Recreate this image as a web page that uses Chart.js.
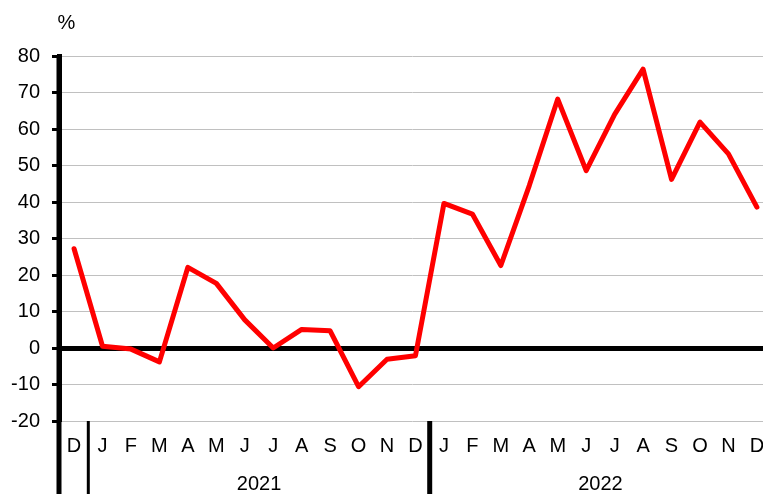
<!DOCTYPE html>
<html>
<head>
<meta charset="utf-8">
<script src="https://cdn.jsdelivr.net/npm/chart.js@4/dist/chart.umd.min.js"></script>
<style>
  html, body { margin: 0; padding: 0; background: #fff; }
  #wrap { width: 763px; height: 494px; position: relative; }
</style>
</head>
<body>
<div id="wrap"><canvas id="c" width="763" height="494"></canvas></div>
<script>
// ---- data ----
const monthLabels = ['D','J','F','M','A','M','J','J','A','S','O','N','D','J','F','M','A','M','J','J','A','S','O','N','D'];
const growthValues = [27.2, 0.5, -0.3, -3.8, 22.1, 17.7, 7.7, 0, 5.1, 4.7, -10.6, -3.1, -2.1,
                      39.6, 36.7, 22.6, 44.5, 68.2, 48.6, 64.0, 76.4, 46.2, 61.9, 53.2, 38.6];
const yearLabels = ['2021', '2022'];
const yearSpans = [[0.5, 12.5], [12.5, 24.5]];
const yTicks = [-20, -10, 0, 10, 20, 30, 40, 50, 60, 70, 80];
const unitLabel = '%';

const FONT = 'Liberation Sans, Arial, sans-serif';

const extras = {
  id: 'extras',
  afterDraw(chart) {
    const ctx = chart.ctx;
    const xs = chart.scales.x;
    const area = chart.chartArea;
    const H = chart.height;
    ctx.save();
    // y-axis extension down through label area
    ctx.strokeStyle = '#000';
    ctx.lineWidth = 5;
    ctx.beginPath();
    ctx.moveTo(area.left, area.top - 1);
    ctx.lineTo(area.left, H);
    ctx.stroke();
    // separators
    const sepWidths = [3, 5];
    [0.5, 12.5].forEach((v, i) => {
      const px = xs.getPixelForValue(v);
      ctx.lineWidth = sepWidths[i];
      ctx.beginPath();
      ctx.moveTo(px, area.bottom);
      ctx.lineTo(px, H);
      ctx.stroke();
    });
    // year labels
    ctx.fillStyle = '#000';
    ctx.font = '20px ' + FONT;
    ctx.textAlign = 'center';
    ctx.textBaseline = 'alphabetic';
    yearLabels.forEach((t, i) => {
      const a = xs.getPixelForValue(yearSpans[i][0]);
      const b = xs.getPixelForValue(yearSpans[i][1]);
      ctx.fillText(t, (a + b) / 2, 490);
    });
    // unit label
    ctx.fillText(unitLabel, 66.5, 29);
    ctx.restore();
  }
};

new Chart(document.getElementById('c'), {
  type: 'line',
  data: {
    datasets: [{
      data: growthValues.map((v, i) => ({ x: i, y: v })),
      borderColor: '#ff0000',
      borderWidth: 5,
      pointRadius: 0,
      tension: 0,
      borderJoinStyle: 'round',
      borderCapStyle: 'round',
      clip: false
    }]
  },
  options: {
    responsive: false,
    animation: false,
    devicePixelRatio: 1,
    layout: { padding: { top: 56, right: 0, left: 0, bottom: 0 } },
    plugins: { legend: { display: false }, tooltip: { enabled: false } },
    scales: {
      x: {
        type: 'linear',
        min: -0.53,
        max: 24.215,
        grid: { display: false },
        border: { display: false },
        afterBuildTicks: (axis) => { axis.ticks = monthLabels.map((_, i) => ({ value: i })); },
        afterFit: (axis) => { axis.height = 73; axis.paddingLeft = 0; axis.paddingRight = 0; },
        ticks: {
          autoSkip: false,
          maxRotation: 0,
          minRotation: 0,
          padding: 5,
          color: '#000',
          font: { family: FONT, size: 20 },
          callback: (v) => monthLabels[v] ?? ''
        }
      },
      y: {
        min: -20,
        max: 80,
        afterBuildTicks: (axis) => { axis.ticks = yTicks.map(v => ({ value: v })); },
        afterFit: (axis) => { axis.width = 59; axis.paddingTop = 0; axis.paddingBottom = 0; },
        grid: {
          color: (c) => c.tick && c.tick.value === 0 ? '#000' : '#c0c0c0',
          lineWidth: (c) => c.tick && c.tick.value === 0 ? 5 : 1,
          tickColor: '#000',
          tickWidth: 3,
          tickLength: 7
        },
        border: { display: true, color: '#000', width: 5 },
        ticks: {
          padding: 12,
          color: '#000',
          font: { family: FONT, size: 20 }
        }
      }
    }
  },
  plugins: [extras]
});
</script>
</body>
</html>
